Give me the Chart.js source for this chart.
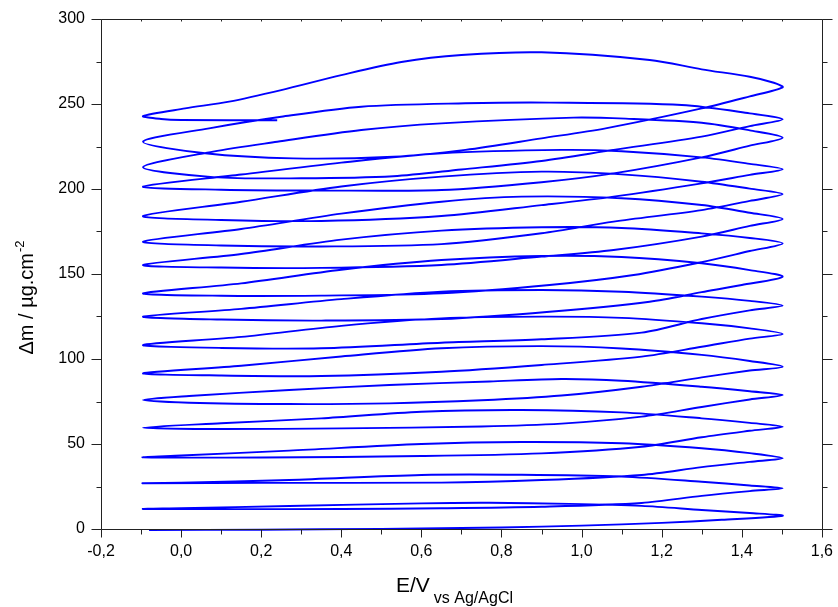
<!DOCTYPE html>
<html><head><meta charset="utf-8">
<script src="https://cdn.jsdelivr.net/npm/chart.js@4.4.1/dist/chart.umd.min.js"></script>
<style>html,body{margin:0;padding:0;background:#fff;overflow:hidden}#wrap{width:838px;height:607px}</style>
</head><body><div id="wrap"><canvas id="c" width="838" height="607"></canvas></div>
<script>
const xTickValues = [-0.2, 0, 0.2, 0.4, 0.6, 0.8, 1.0, 1.2, 1.4, 1.6];
const xTickLabels = ['-0,2','0,0','0,2','0,4','0,6','0,8','1,0','1,2','1,4','1,6'];
const xMinorValues = [-0.1, 0.1, 0.3, 0.5, 0.7, 0.9, 1.1, 1.3, 1.5];
const yTickValues = [0, 50, 100, 150, 200, 250, 300];
const yTickLabels = ['0','50','100','150','200','250','300'];
const yMinorValues = [25, 75, 125, 175, 225, 275];

// [E (V), Δm (µg.cm-2)] — forward (f) and reverse (r) sweeps
const f0 = [[-0.08,-0.6],[0.2,-0.4],[0.5,0.1],[0.8,0.9],[1.0,2.0],[1.2,3.6],[1.35,5.4],[1.502,7.8]];
const r0 = [[1.42,9.4],[1.3,11.2],[1.15,13.6],[0.97,14.8],[0.77,15.4],[0.6,15.1],[0.27,13.5],[0.0,12.2],[-0.095,11.8]];
const f1 = [[0.1,11.7],[0.4,11.8],[0.65,12.2],[0.9,13.1],[1.15,15.3],[1.3,19.5],[1.42,22.3],[1.502,23.9]];
const r1 = [[1.42,25.6],[1.3,27.8],[1.1,30.8],[0.85,31.9],[0.6,31.8],[0.27,28.8],[0.0,27.3],[-0.095,26.9]];
const f2 = [[0.2,27.2],[0.65,27.3],[0.9,28.8],[1.15,31.8],[1.3,36.4],[1.42,39.5],[1.502,41.6]];
const r2 = [[1.42,44.6],[1.3,47.5],[1.1,50.4],[0.85,51.2],[0.6,50.0],[0.27,46.1],[0.0,43.2],[-0.095,42.2]];
const f3 = [[0.2,42.1],[0.6,42.9],[0.9,44.5],[1.15,48.4],[1.3,54.0],[1.42,57.8],[1.502,60.2]];
const r3 = [[1.42,62.4],[1.3,65.1],[1.1,68.6],[0.85,70.0],[0.6,69.0],[0.35,65.1],[0.1,62.2],[-0.095,59.6]];
const f4 = [[0.1,58.8],[0.4,59.2],[0.75,60.3],[0.95,62.0],[1.15,66.1],[1.3,71.8],[1.42,76.2],[1.502,78.8]];
const r4 = [[1.42,81.0],[1.3,83.7],[1.1,87.2],[0.95,88.2],[0.77,86.8],[0.52,84.7],[0.27,81.8],[0.02,78.2],[-0.095,75.9]];
const f5 = [[0.02,74.3],[0.27,73.5],[0.52,73.9],[0.75,75.7],[0.95,78.5],[1.15,83.7],[1.3,89.2],[1.42,93.2],[1.502,95.5]];
const r5 = [[1.42,98.8],[1.3,102.4],[1.1,106.2],[0.9,107.6],[0.65,106.3],[0.4,101.5],[0.15,96.0],[-0.095,91.6]];
const f6 = [[0.1,90.3],[0.35,90.0],[0.65,92.5],[0.9,96.5],[1.15,101.4],[1.3,107.2],[1.42,112.0],[1.502,114.7]];
const r6 = [[1.42,118.0],[1.3,121.0],[1.1,124.2],[0.9,124.9],[0.65,123.9],[0.4,119.5],[0.15,113.0],[-0.095,108.2]];
const f7 = [[0.1,106.5],[0.35,106.3],[0.65,109.6],[0.9,111.6],[1.15,115.5],[1.3,123.5],[1.42,128.6],[1.502,131.4]];
const r7 = [[1.42,134.2],[1.3,136.7],[1.1,139.6],[0.9,140.6],[0.65,139.6],[0.4,135.2],[0.15,129.5],[-0.095,124.9]];
const f8 = [[0.1,123.2],[0.35,122.6],[0.65,123.5],[0.92,127.8],[1.17,133.7],[1.3,139.3],[1.4,143.5],[1.502,148.4]];
const r8 = [[1.42,152.3],[1.3,156.3],[1.1,160.0],[0.9,160.6],[0.65,158.2],[0.4,152.5],[0.15,144.5],[-0.095,138.6]];
const f9 = [[0.1,137.2],[0.35,137.3],[0.65,138.6],[0.92,143.5],[1.13,149.4],[1.3,157.0],[1.42,163.5],[1.502,168.0]];
const r9 = [[1.42,171.2],[1.3,173.9],[1.1,177.1],[0.9,177.5],[0.65,175.5],[0.4,170.2],[0.15,161.8],[-0.095,155.3]];
const f10 = [[0.1,153.8],[0.35,153.6],[0.65,155.3],[0.9,160.2],[1.08,164.1],[1.3,172.0],[1.42,178.3],[1.502,182.4]];
const r10 = [[1.42,186.0],[1.3,190.6],[1.1,194.6],[0.85,195.5],[0.65,192.5],[0.4,185.5],[0.15,176.5],[-0.095,169.0]];
const f11 = [[0.1,166.8],[0.35,166.2],[0.65,167.6],[0.9,174.0],[1.08,180.8],[1.3,187.6],[1.42,193.0],[1.502,197.0]];
const r11 = [[1.42,200.2],[1.3,204.3],[1.1,208.6],[0.9,210.2],[0.65,207.3],[0.4,201.5],[0.15,192.5],[-0.095,184.1]];
const f12 = [[0.1,181.8],[0.35,181.2],[0.65,184.1],[0.9,190.5],[1.08,195.5],[1.3,203.3],[1.42,208.3],[1.502,211.6]];
const r12 = [[1.42,214.8],[1.3,218.6],[1.1,222.2],[0.95,223.0],[0.65,221.0],[0.4,215.5],[0.15,208.5],[-0.095,201.4]];
const f13 = [[0.1,199.6],[0.35,199.1],[0.65,199.4],[0.9,204.0],[1.08,209.2],[1.3,218.6],[1.42,225.5],[1.502,230.2]];
const r13 = [[1.42,234.5],[1.3,239.0],[1.11,241.4],[0.98,242.0],[0.65,238.6],[0.45,234.7],[0.24,227.8],[0.08,222.0],[-0.095,212.8]];
const f14 = [[0.08,207.0],[0.3,206.3],[0.53,207.5],[0.7,211.5],[0.9,216.5],[1.08,223.0],[1.3,230.8],[1.42,237.0],[1.502,241.0]];
const r14 = [[1.42,244.5],[1.25,249.4],[0.92,250.8],[0.71,250.4],[0.45,248.4],[0.25,242.5],[0.07,235.7],[-0.095,227.8]];
const f15 = [[0.06,221.0],[0.28,218.0],[0.53,219.0],[0.71,223.0],[0.9,229.8],[1.06,235.7],[1.3,247.4],[1.42,254.5],[1.502,259.8]];
const r15 = [[1.48,262.5],[1.42,266.0],[1.3,270.4],[1.17,275.9],[0.9,280.4],[0.7,278.8],[0.55,274.7],[0.4,267.0],[0.25,258.2],[0.12,251.4],[0.01,247.4],[-0.095,242.9]];
const f16 = [[-0.05,241.2],[0.0,240.6],[0.24,240.4]];

const sweeps = [f0,r0,f1,r1,f2,r2,f3,r3,f4,r4,f5,r5,f6,r6,f7,r7,f8,r8,f9,r9,f10,r10,f11,r11,f12,r12,f13,r13,f14,r14,f15,r15,f16];
const trace = [].concat(...sweeps).map(p => ({x: p[0], y: p[1]}));

const FONT = "'Liberation Sans', Arial, sans-serif";
const AXIS = '#222';

const framePlugin = {
  id: 'frame',
  afterDraw(chart) {
    const ctx = chart.ctx;
    const {left, right, top, bottom} = chart.chartArea;
    const xs = chart.scales.x, ys = chart.scales.y;
    ctx.save();
    ctx.strokeStyle = AXIS;
    ctx.lineWidth = 1;
    const L = Math.round(left) + 0.5, R = Math.round(right) + 0.5;
    const T = Math.round(top) + 0.5, B = Math.round(bottom) + 0.5;
    ctx.beginPath();
    ctx.moveTo(L, T); ctx.lineTo(R, T); ctx.lineTo(R, B); ctx.lineTo(L, B); ctx.closePath();
    ctx.stroke();
    ctx.beginPath();
    const xt = (v, len, lenTop) => {
      const p = Math.round(xs.getPixelForValue(v)) + 0.5;
      ctx.moveTo(p, B); ctx.lineTo(p, B + len);
      ctx.moveTo(p, T); ctx.lineTo(p, T + lenTop);
    };
    xTickValues.forEach(v => xt(v, 8, 2));
    xMinorValues.forEach(v => xt(v, 5, 2));
    const yt = (v, len) => {
      const p = Math.round(ys.getPixelForValue(v)) + 0.5;
      ctx.moveTo(L, p); ctx.lineTo(L - len, p);
      ctx.moveTo(R, p); ctx.lineTo(R + len, p);
    };
    yTickValues.forEach(v => yt(v, 10));
    yMinorValues.forEach(v => yt(v, 5));
    ctx.stroke();

    // axis titles
    ctx.fillStyle = '#000';
    ctx.textBaseline = 'alphabetic';
    ctx.font = '21px ' + FONT;
    const main = 'E/V';
    const wMain = ctx.measureText(main).width;
    ctx.font = '16px ' + FONT;
    const sub = 'vs Ag/AgCl';
    const wSub = ctx.measureText(sub).width;
    const x0 = 396;
    ctx.font = '21px ' + FONT;
    ctx.fillText(main, x0, 592);
    ctx.font = '16px ' + FONT;
    ctx.fillText(sub, x0 + wMain + 4, 603);

    ctx.save();
    ctx.translate(33, 298);
    ctx.rotate(-Math.PI / 2);
    ctx.font = '20px ' + FONT;
    const ym = 'Δm / µg.cm';
    const wy = ctx.measureText(ym).width;
    ctx.font = '13px ' + FONT;
    const ys2 = '-2';
    const wy2 = ctx.measureText(ys2).width;
    const sx = -(wy + wy2) / 2;
    ctx.font = '20px ' + FONT;
    ctx.fillText(ym, sx, 0);
    ctx.font = '13px ' + FONT;
    ctx.fillText(ys2, sx + wy + 1, -9);
    ctx.restore();
    ctx.restore();
  }
};

new Chart(document.getElementById('c'), {
  type: 'scatter',
  data: {
    datasets: [{
      data: trace,
      showLine: true,
      borderColor: '#0000ff',
      borderWidth: 1.9,
      pointRadius: 0,
      pointHoverRadius: 0,
      tension: 0.3,
      fill: false,
      clip: 4
    }]
  },
  options: {
    responsive: false,
    animation: false,
    events: [],
    layout: {padding: {top: 19, right: 16, left: 0, bottom: 0}},
    plugins: {legend: {display: false}, tooltip: {enabled: false}},
    scales: {
      x: {
        type: 'linear', min: -0.2, max: 1.6,
        afterBuildTicks: s => { s.ticks = xTickValues.map(v => ({value: v})); },
        afterFit: s => { s.height = 78; },
        grid: {display: true, drawOnChartArea: false, drawTicks: true, tickLength: 8, color: 'rgba(0,0,0,0)', tickColor: 'rgba(0,0,0,0)'},
        border: {display: false},
        ticks: {padding: 5, autoSkip: false, maxRotation: 0, color: '#000', font: {family: FONT, size: 16},
          callback: (v, i) => xTickLabels[i]}
      },
      y: {
        type: 'linear', min: 0, max: 300,
        afterBuildTicks: s => { s.ticks = yTickValues.map(v => ({value: v})); },
        afterFit: s => { s.width = 101; },
        grid: {display: true, drawOnChartArea: false, drawTicks: true, tickLength: 10, color: 'rgba(0,0,0,0)', tickColor: 'rgba(0,0,0,0)'},
        border: {display: false},
        ticks: {padding: 6, autoSkip: false, color: '#000', font: {family: FONT, size: 16},
          callback: (v, i) => yTickLabels[i]}
      }
    }
  },
  plugins: [framePlugin]
});
</script>
</body></html>
